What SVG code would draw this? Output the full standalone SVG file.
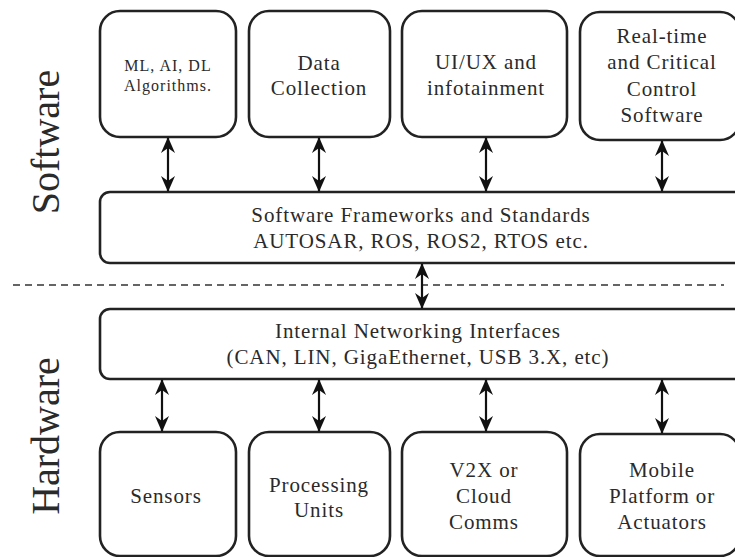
<svg xmlns="http://www.w3.org/2000/svg" width="735" height="557" viewBox="0 0 735 557">
  <defs>
    <marker id="head" viewBox="0 0 16 14" refX="15" refY="7" markerWidth="16" markerHeight="14" markerUnits="userSpaceOnUse" orient="auto-start-reverse">
      <path d="M0,0 L16,7 L0,14 L5,7 Z" fill="#111"/>
    </marker>
  </defs>
  <style>
    .box { fill: #fff; stroke: #222; stroke-width: 2.6; }
    .lbl { font-family: "Liberation Serif", "DejaVu Serif", serif; font-size: 21px; letter-spacing: 0.9px; fill: #2a2a2a; text-anchor: middle; }
    .sm { font-size: 16px; letter-spacing: 1px; }
    .side { font-family: "Liberation Serif", "DejaVu Serif", serif; font-size: 40px; fill: #2a2a2a; text-anchor: middle; }
    .link { stroke: #111; stroke-width: 2.2; fill: none; marker-start: url(#head); marker-end: url(#head); }
  </style>
  <rect width="735" height="557" fill="#fff"/>

  <!-- layer titles -->
  <text class="side" transform="translate(59,142) rotate(-90)">Software</text>
  <text class="side" transform="translate(59,436) rotate(-90)">Hardware</text>

  <!-- boundary between software and hardware -->
  <line x1="13" y1="285" x2="724" y2="285" stroke="#333" stroke-width="1.5" stroke-dasharray="7,5"/>

  <!-- software applications -->
  <g id="ml">
    <rect class="box" x="100" y="11" width="136" height="126" rx="20"/>
    <text class="lbl sm" x="168" y="71">ML, AI, DL</text>
    <text class="lbl sm" x="168" y="91">Algorithms.</text>
  </g>
  <g id="data">
    <rect class="box" x="249" y="11" width="141" height="126" rx="20"/>
    <text class="lbl" x="319" y="70">Data</text>
    <text class="lbl" x="319" y="95">Collection</text>
  </g>
  <g id="ui">
    <rect class="box" x="402" y="11" width="165" height="126" rx="20"/>
    <text class="lbl" x="486" y="69">UI/UX and</text>
    <text class="lbl" x="486" y="95">infotainment</text>
  </g>
  <g id="rt">
    <rect class="box" x="580" y="12" width="160" height="128" rx="20"/>
    <text class="lbl" x="662" y="43">Real-time</text>
    <text class="lbl" x="662" y="69">and Critical</text>
    <text class="lbl" x="662" y="96">Control</text>
    <text class="lbl" x="662" y="122">Software</text>
  </g>

  <!-- middleware -->
  <g id="frameworks">
    <rect class="box" x="100" y="192" width="645" height="71" rx="10"/>
    <text class="lbl" x="421" y="222">Software Frameworks and Standards</text>
    <text class="lbl" x="421" y="248">AUTOSAR, ROS, ROS2, RTOS etc.</text>
  </g>
  <g id="network">
    <rect class="box" x="100" y="309" width="645" height="70" rx="10"/>
    <text class="lbl" x="418" y="338">Internal Networking Interfaces</text>
    <text class="lbl" x="418" y="364">(CAN, LIN, GigaEthernet, USB 3.X, etc)</text>
  </g>

  <!-- hardware components -->
  <g id="sensors">
    <rect class="box" x="100" y="432" width="136" height="124" rx="20"/>
    <text class="lbl" x="166" y="503">Sensors</text>
  </g>
  <g id="processing">
    <rect class="box" x="249" y="432" width="141" height="124" rx="20"/>
    <text class="lbl" x="319" y="492">Processing</text>
    <text class="lbl" x="319" y="517">Units</text>
  </g>
  <g id="v2x">
    <rect class="box" x="402" y="432" width="165" height="124" rx="20"/>
    <text class="lbl" x="484" y="477">V2X or</text>
    <text class="lbl" x="484" y="503">Cloud</text>
    <text class="lbl" x="484" y="529">Comms</text>
  </g>
  <g id="mobile">
    <rect class="box" x="580" y="434" width="160" height="122" rx="20"/>
    <text class="lbl" x="662" y="477">Mobile</text>
    <text class="lbl" x="662" y="503">Platform or</text>
    <text class="lbl" x="662" y="529">Actuators</text>
  </g>

  <!-- bidirectional links -->
  <g id="connectors">
    <line class="link" x1="168" y1="138" x2="168" y2="191"/>
    <line class="link" x1="319" y1="138" x2="319" y2="191"/>
    <line class="link" x1="486" y1="138" x2="486" y2="191"/>
    <line class="link" x1="662" y1="141" x2="662" y2="191"/>
    <line class="link" x1="422" y1="264" x2="422" y2="308"/>
    <line class="link" x1="162" y1="380" x2="162" y2="431"/>
    <line class="link" x1="319" y1="380" x2="319" y2="431"/>
    <line class="link" x1="486" y1="380" x2="486" y2="431"/>
    <line class="link" x1="662" y1="380" x2="662" y2="433"/>
  </g>
</svg>
